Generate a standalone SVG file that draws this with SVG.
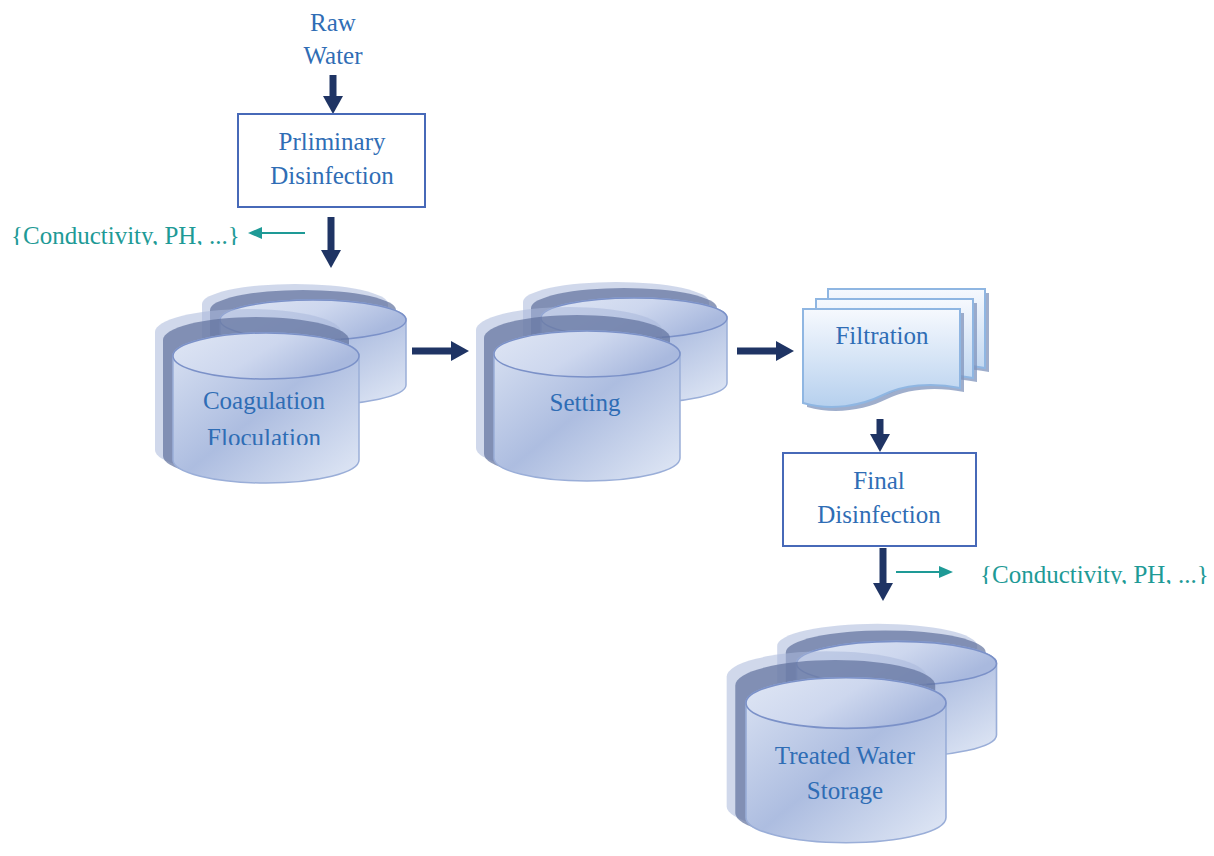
<svg xmlns="http://www.w3.org/2000/svg" xmlns:xlink="http://www.w3.org/1999/xlink" width="1214" height="856" viewBox="0 0 1214 856">
<style>
.lbl{font-family:"Liberation Serif","DejaVu Serif",serif;font-size:25px;fill:#2f6db5;text-anchor:middle}
.meas{font-family:"Liberation Serif","DejaVu Serif",serif;font-size:25px;fill:#1e9a96}
.box{fill:#ffffff;stroke:#4769b8;stroke-width:2}
.flow{stroke:#1f3464;stroke-width:7;fill:none}
.tap{stroke:#1e9a96;stroke-width:2;fill:none}
.body{fill:url(#gBody);stroke:#9aaed8;stroke-width:1.5}
.top{fill:url(#gTop);stroke:#7b91c8;stroke-width:1.5}
.shD{fill:#60709c;opacity:0.7}
.shL{fill:#aab8da;opacity:0.55}
.doc{fill:url(#gDoc);stroke:#8fb6e2;stroke-width:2}
.docSh{fill:#7f93bb;opacity:0.75}
</style>
<defs>
<linearGradient id="gBody" x1="0" y1="0" x2="1" y2="1">
<stop offset="0" stop-color="#dbe3f3"/>
<stop offset="0.5" stop-color="#adbde0"/>
<stop offset="1" stop-color="#e2e9f6"/>
</linearGradient>
<linearGradient id="gTop" x1="0" y1="0" x2="1" y2="0.4">
<stop offset="0" stop-color="#dfe6f4"/>
<stop offset="0.55" stop-color="#cdd7ee"/>
<stop offset="1" stop-color="#a9b9de"/>
</linearGradient>
<linearGradient id="gDoc" x1="0" y1="0" x2="0" y2="1">
<stop offset="0" stop-color="#f6f9fe"/>
<stop offset="1" stop-color="#b6d0ee"/>
</linearGradient>
<marker id="mNavy" viewBox="0 0 18 20" refX="0" refY="10" markerWidth="18" markerHeight="20" markerUnits="userSpaceOnUse" orient="auto">
<path d="M0,0 L18,10 L0,20 Z" fill="#1f3464"/>
</marker>
<marker id="mTeal" viewBox="0 0 14 12" refX="0" refY="6" markerWidth="14" markerHeight="12" markerUnits="userSpaceOnUse" orient="auto">
<path d="M0,0 L14,6 L0,12 Z" fill="#1e9a96"/>
</marker>
<g id="tanks">
<path class="shL" d="M-64,-52 A93,20 0 0 1 122,-52 V23 A93,20 0 0 1 -64,23 Z"/>
<path class="shD" d="M-56,-46 A93,20 0 0 1 130,-46 V27 A93,20 0 0 1 -56,27 Z"/>
<path class="body" d="M-46,-36 A93,20 0 0 1 140,-36 V29 A93,20 0 0 1 -46,29 Z"/>
<ellipse class="top" cx="47" cy="-36" rx="93" ry="20"/>
<path class="shL" d="M-111,-24 A93,23 0 0 1 75,-24 V94 A93,23 0 0 1 -111,94 Z"/>
<path class="shD" d="M-103,-16 A93,23 0 0 1 83,-16 V100 A93,23 0 0 1 -103,100 Z"/>
<path class="body" d="M-93,0 A93,23 0 0 1 93,0 V104 A93,23 0 0 1 -93,104 Z"/>
<ellipse class="top" cx="0" cy="0" rx="93" ry="23"/>
</g>
<path id="docShape" d="M0,0 H157 V79 C128,73 100,76 80,86 C58,97 28,102 0,94 Z"/>
<clipPath id="clipCoag"><rect x="150" y="300" width="260" height="145"/></clipPath>
<clipPath id="clipM1"><rect x="0" y="215" width="250" height="30"/></clipPath>
<clipPath id="clipM2"><rect x="970" y="555" width="244" height="29"/></clipPath>
</defs>

<g id="connectors">
<line class="flow" x1="333" y1="75" x2="333" y2="96" marker-end="url(#mNavy)"/>
<line class="flow" x1="331" y1="217" x2="331" y2="250" marker-end="url(#mNavy)"/>
<line class="flow" x1="412" y1="351" x2="451" y2="351" marker-end="url(#mNavy)"/>
<line class="flow" x1="737" y1="351" x2="776" y2="351" marker-end="url(#mNavy)"/>
<line class="flow" x1="880" y1="419" x2="880" y2="434" marker-end="url(#mNavy)"/>
<line class="flow" x1="883" y1="548" x2="883" y2="583" marker-end="url(#mNavy)"/>
<line class="tap" x1="305" y1="233" x2="262" y2="233" marker-end="url(#mTeal)"/>
<line class="tap" x1="896" y1="572" x2="939" y2="572" marker-end="url(#mTeal)"/>
</g>

<g id="raw-water">
<text class="lbl" x="333" y="31">Raw</text>
<text class="lbl" x="333" y="64">Water</text>
</g>

<g id="preliminary-disinfection">
<rect class="box" x="238" y="114" width="187" height="93"/>
<text class="lbl" x="332" y="150">Prliminary</text>
<text class="lbl" x="332" y="184">Disinfection</text>
</g>

<g id="measure-1" clip-path="url(#clipM1)">
<text class="meas" x="11" y="244">{Conductivity, PH, ...}</text>
</g>

<g id="coagulation-floculation">
<use xlink:href="#tanks" href="#tanks" transform="translate(266,356)"/>
<text class="lbl" x="264" y="409">Coagulation</text>
<text class="lbl" x="264" y="446" clip-path="url(#clipCoag)">Floculation</text>
</g>

<g id="setting">
<use xlink:href="#tanks" href="#tanks" transform="translate(587,354)"/>
<text class="lbl" x="585" y="411">Setting</text>
</g>

<g id="filtration">
<use class="docSh" xlink:href="#docShape" href="#docShape" transform="translate(832,293)"/>
<use class="doc" xlink:href="#docShape" href="#docShape" transform="translate(828,289)"/>
<use class="docSh" xlink:href="#docShape" href="#docShape" transform="translate(820,303)"/>
<use class="doc" xlink:href="#docShape" href="#docShape" transform="translate(816,299)"/>
<use class="docSh" xlink:href="#docShape" href="#docShape" transform="translate(807,313)"/>
<use class="doc" xlink:href="#docShape" href="#docShape" transform="translate(803,309)"/>
<text class="lbl" x="882" y="344">Filtration</text>
</g>

<g id="final-disinfection">
<rect class="box" x="783" y="453" width="193" height="93"/>
<text class="lbl" x="879" y="489">Final</text>
<text class="lbl" x="879" y="523">Disinfection</text>
</g>

<g id="measure-2" clip-path="url(#clipM2)">
<text class="meas" x="980" y="583">{Conductivity, PH, ...}</text>
</g>

<g id="treated-water-storage">
<use xlink:href="#tanks" href="#tanks" transform="translate(846,703) scale(1.075,1.1)"/>
<text class="lbl" x="845" y="764">Treated Water</text>
<text class="lbl" x="845" y="799">Storage</text>
</g>
</svg>
